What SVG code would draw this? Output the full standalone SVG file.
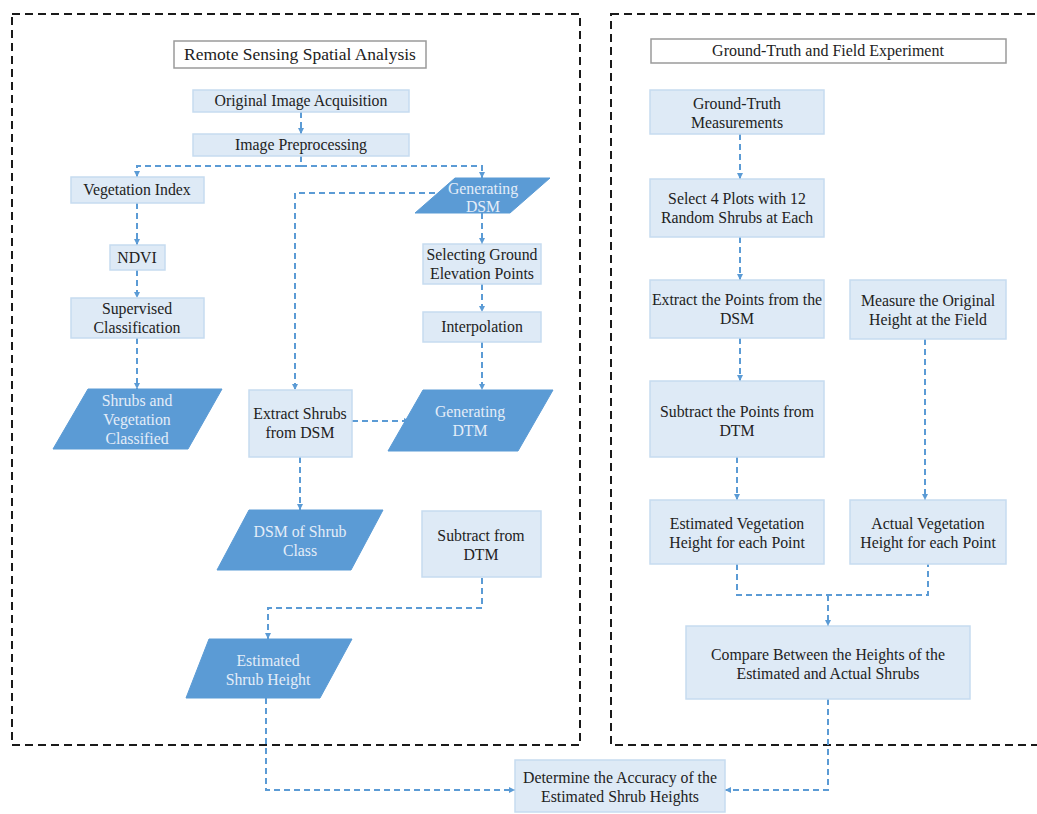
<svg xmlns="http://www.w3.org/2000/svg" width="1037" height="814" viewBox="0 0 1037 814">
<defs>
<style>
.cont{fill:none;stroke:#1a1a1a;stroke-width:2;stroke-dasharray:8 5}
.title{fill:#fff;stroke:#9a9a9a;stroke-width:1.5}
.box{fill:#deeaf6;stroke:#c6dbf0;stroke-width:1.5}
.para{fill:#5b9bd5;stroke:#5b9bd5;stroke-width:1}
.t{font-family:"Liberation Serif","Times New Roman",serif;font-size:15.8px;fill:#222;text-anchor:middle}
.tw{font-family:"Liberation Serif","Times New Roman",serif;font-size:15.8px;fill:#e4edf8;text-anchor:middle}
.c{fill:none;stroke:#5b9bd5;stroke-width:2;stroke-dasharray:6 4}
</style>
<marker id="ah" viewBox="0 0 6 6" refX="6" refY="3" markerWidth="6" markerHeight="6" markerUnits="userSpaceOnUse" orient="auto">
<path d="M0,0 L6,3 L0,6 z" fill="#5b9bd5"/>
</marker>
</defs>
<rect width="1037" height="814" fill="#fff"/>
<g id="containers">
<rect class="cont" x="12" y="14" width="568" height="731"/>
<rect class="cont" x="611" y="14" width="440" height="731"/>
</g>
<g id="connectors">
<path class="c" d="M301,112 V134" marker-end="url(#ah)"/>
<path class="c" d="M301,156 V166 H137 V177" marker-end="url(#ah)"/>
<path class="c" d="M301,166 H482 V178" marker-end="url(#ah)"/>
<path class="c" d="M455,193 H295 V390" marker-end="url(#ah)"/>
<path class="c" d="M482,213 V244" marker-end="url(#ah)"/>
<path class="c" d="M482,284 V312" marker-end="url(#ah)"/>
<path class="c" d="M482,342 V390" marker-end="url(#ah)"/>
<path class="c" d="M137,203 V245" marker-end="url(#ah)"/>
<path class="c" d="M137,270 V298" marker-end="url(#ah)"/>
<path class="c" d="M137,338 V389" marker-end="url(#ah)"/>
<path class="c" d="M352,421 H410" marker-end="url(#ah)"/>
<path class="c" d="M300,457 V510" marker-end="url(#ah)"/>
<path class="c" d="M482,578 V608 H268 V639" marker-end="url(#ah)"/>
<path class="c" d="M266,698 V790 H515" marker-end="url(#ah)"/>
<path class="c" d="M740,134 V179" marker-end="url(#ah)"/>
<path class="c" d="M740,237 V280" marker-end="url(#ah)"/>
<path class="c" d="M740,338 V381" marker-end="url(#ah)"/>
<path class="c" d="M737,457 V500" marker-end="url(#ah)"/>
<path class="c" d="M925,339 V500" marker-end="url(#ah)"/>
<path class="c" d="M737,564 V595 H928 V564"/>
<path class="c" d="M828,595 V626" marker-end="url(#ah)"/>
<path class="c" d="M828,699 V790 H725" marker-end="url(#ah)"/>
</g>
<g id="title-left"><rect class="title" x="174" y="41" width="252" height="27"/><text class="t" x="300" y="60" style="font-size:17.5px">Remote Sensing Spatial Analysis</text></g>
<g id="title-right"><rect class="title" x="651" y="39" width="355" height="24"/><text class="t" x="828" y="56" style="font-size:16px">Ground-Truth and Field Experiment</text></g>
<g id="n-acq"><rect class="box" x="193" y="90" width="216" height="22"/><text class="t" x="301" y="106">Original Image Acquisition</text></g>
<g id="n-pre"><rect class="box" x="193" y="134" width="216" height="22"/><text class="t" x="301" y="150">Image Preprocessing</text></g>
<g id="n-vi"><rect class="box" x="71" y="177" width="133" height="26"/><text class="t" x="137" y="195">Vegetation Index</text></g>
<g id="n-dsm"><polygon class="para" points="455,178 550,178 510,213 415,213"/><text class="tw" x="483" y="194">Generating</text><text class="tw" x="483" y="212">DSM</text></g>
<g id="n-ndvi"><rect class="box" x="110" y="245" width="55" height="25"/><text class="t" x="137" y="263">NDVI</text></g>
<g id="n-sel"><rect class="box" x="423" y="244" width="118" height="40"/><text class="t" x="482" y="260">Selecting Ground</text><text class="t" x="482" y="279">Elevation Points</text></g>
<g id="n-sup"><rect class="box" x="71" y="298" width="133" height="40"/><text class="t" x="137" y="314">Supervised</text><text class="t" x="137" y="333">Classification</text></g>
<g id="n-int"><rect class="box" x="423" y="312" width="118" height="30"/><text class="t" x="482" y="332">Interpolation</text></g>
<g id="n-shrubcls"><polygon class="para" points="88,389 222,389 188,449 53,449"/><text class="tw" x="137" y="406">Shrubs and</text><text class="tw" x="137" y="425">Vegetation</text><text class="tw" x="137" y="444">Classified</text></g>
<g id="n-ext"><rect class="box" x="249" y="390" width="103" height="67"/><text class="t" x="300" y="419">Extract Shrubs</text><text class="t" x="300" y="438">from DSM</text></g>
<g id="n-dtm"><polygon class="para" points="423,390 553,390 518,451 388,451"/><text class="tw" x="470" y="417">Generating</text><text class="tw" x="470" y="436">DTM</text></g>
<g id="n-dsmshrub"><polygon class="para" points="249,510 383,510 351,570 217,570"/><text class="tw" x="300" y="537">DSM of Shrub</text><text class="tw" x="300" y="556">Class</text></g>
<g id="n-subdtm"><rect class="box" x="422" y="511" width="119" height="66"/><text class="t" x="481" y="541">Subtract from</text><text class="t" x="481" y="560">DTM</text></g>
<g id="n-esth"><polygon class="para" points="209,639 352,639 320,698 186,698"/><text class="tw" x="268" y="666">Estimated</text><text class="tw" x="268" y="685">Shrub Height</text></g>
<g id="n-acc"><rect class="box" x="515" y="760" width="210" height="52"/><text class="t" x="620" y="783">Determine the Accuracy of the</text><text class="t" x="620" y="802">Estimated Shrub Heights</text></g>
<g id="n-gt"><rect class="box" x="650" y="90" width="174" height="44"/><text class="t" x="737" y="109">Ground-Truth</text><text class="t" x="737" y="128">Measurements</text></g>
<g id="n-plots"><rect class="box" x="650" y="179" width="174" height="58"/><text class="t" x="737" y="204">Select 4 Plots with 12</text><text class="t" x="737" y="223">Random Shrubs at Each</text></g>
<g id="n-extpts"><rect class="box" x="650" y="280" width="174" height="58"/><text class="t" x="737" y="305">Extract the Points from the</text><text class="t" x="737" y="324">DSM</text></g>
<g id="n-meas"><rect class="box" x="850" y="280" width="156" height="59"/><text class="t" x="928" y="306">Measure the Original</text><text class="t" x="928" y="325">Height at the Field</text></g>
<g id="n-subpts"><rect class="box" x="650" y="381" width="174" height="76"/><text class="t" x="737" y="417">Subtract the Points from</text><text class="t" x="737" y="436">DTM</text></g>
<g id="n-estveg"><rect class="box" x="650" y="500" width="174" height="64"/><text class="t" x="737" y="529">Estimated Vegetation</text><text class="t" x="737" y="548">Height for each Point</text></g>
<g id="n-actveg"><rect class="box" x="850" y="500" width="156" height="64"/><text class="t" x="928" y="529">Actual Vegetation</text><text class="t" x="928" y="548">Height for each Point</text></g>
<g id="n-cmp"><rect class="box" x="686" y="626" width="284" height="73"/><text class="t" x="828" y="660">Compare Between the Heights of the</text><text class="t" x="828" y="679">Estimated and Actual Shrubs</text></g>
</svg>
